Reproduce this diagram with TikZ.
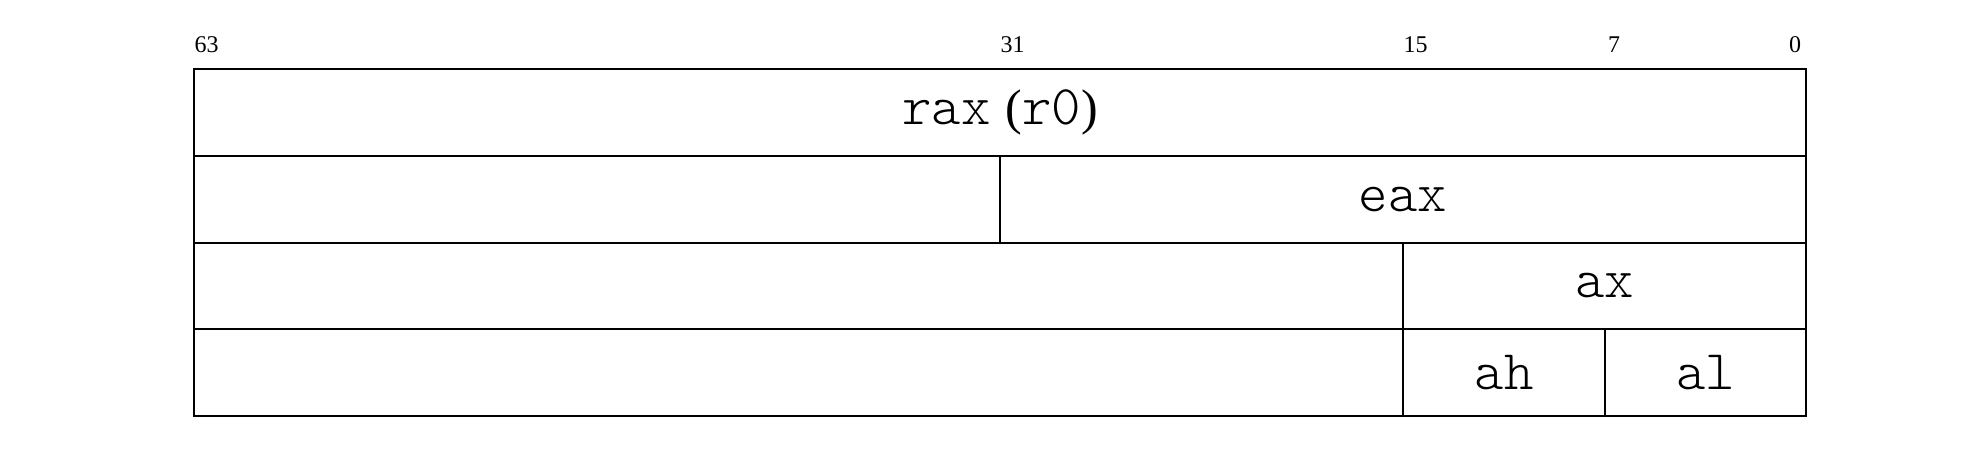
\documentclass[tikz,border=0pt]{standalone}
\usepackage{fontspec}
\setmainfont{Liberation Serif}
\setmonofont{Latin Modern Mono Light}
\tikzset{
  field/.style={draw, line width=2.2pt, inner sep=0pt, minimum height=86.7pt, font=\fontsize{56}{62}\selectfont},
  bitlbl/.style={font=\fontsize{24}{28}\selectfont, inner sep=0pt, anchor=base}
}
\newcommand{\pfont}{\fontsize{50}{56}\selectfont}
\begin{document}
\begin{tikzpicture}[x=1pt,y=-1pt]
\useasboundingbox (0,0) rectangle (1988,456);
% row 1
\node[field, minimum width=1612pt] (rax) at (1000,112.65) {\texttt{rax}\hspace{15pt}{\pfont(}\texttt{r0}{\pfont)}};
% row 2
\node[field, minimum width=806pt] (hi32) at (597,199.35) {};
\node[field, minimum width=806pt] (eax) at (1403,199.35) {\texttt{eax}};
% row 3
\node[field, minimum width=1209pt] (hi48) at (798.5,286) {};
\node[field, minimum width=403pt] (ax) at (1604.5,286) {\texttt{ax}};
% row 4
\node[field, minimum width=1209pt] (hi48b) at (798.5,372.7) {};
\node[field, minimum width=202pt] (ah) at (1504,372.7) {\texttt{ah}};
\node[field, minimum width=201pt] (al) at (1705.5,372.7) {\texttt{al}};
% bit labels
\node[bitlbl] (b63) at (206.6,52) {63};
\node[bitlbl] (b31) at (1012.6,52) {31};
\node[bitlbl] (b15) at (1415.6,52) {15};
\node[bitlbl] (b7) at (1614,52) {7};
\node[bitlbl] (b0) at (1795,52) {0};
\end{tikzpicture}
\end{document}
